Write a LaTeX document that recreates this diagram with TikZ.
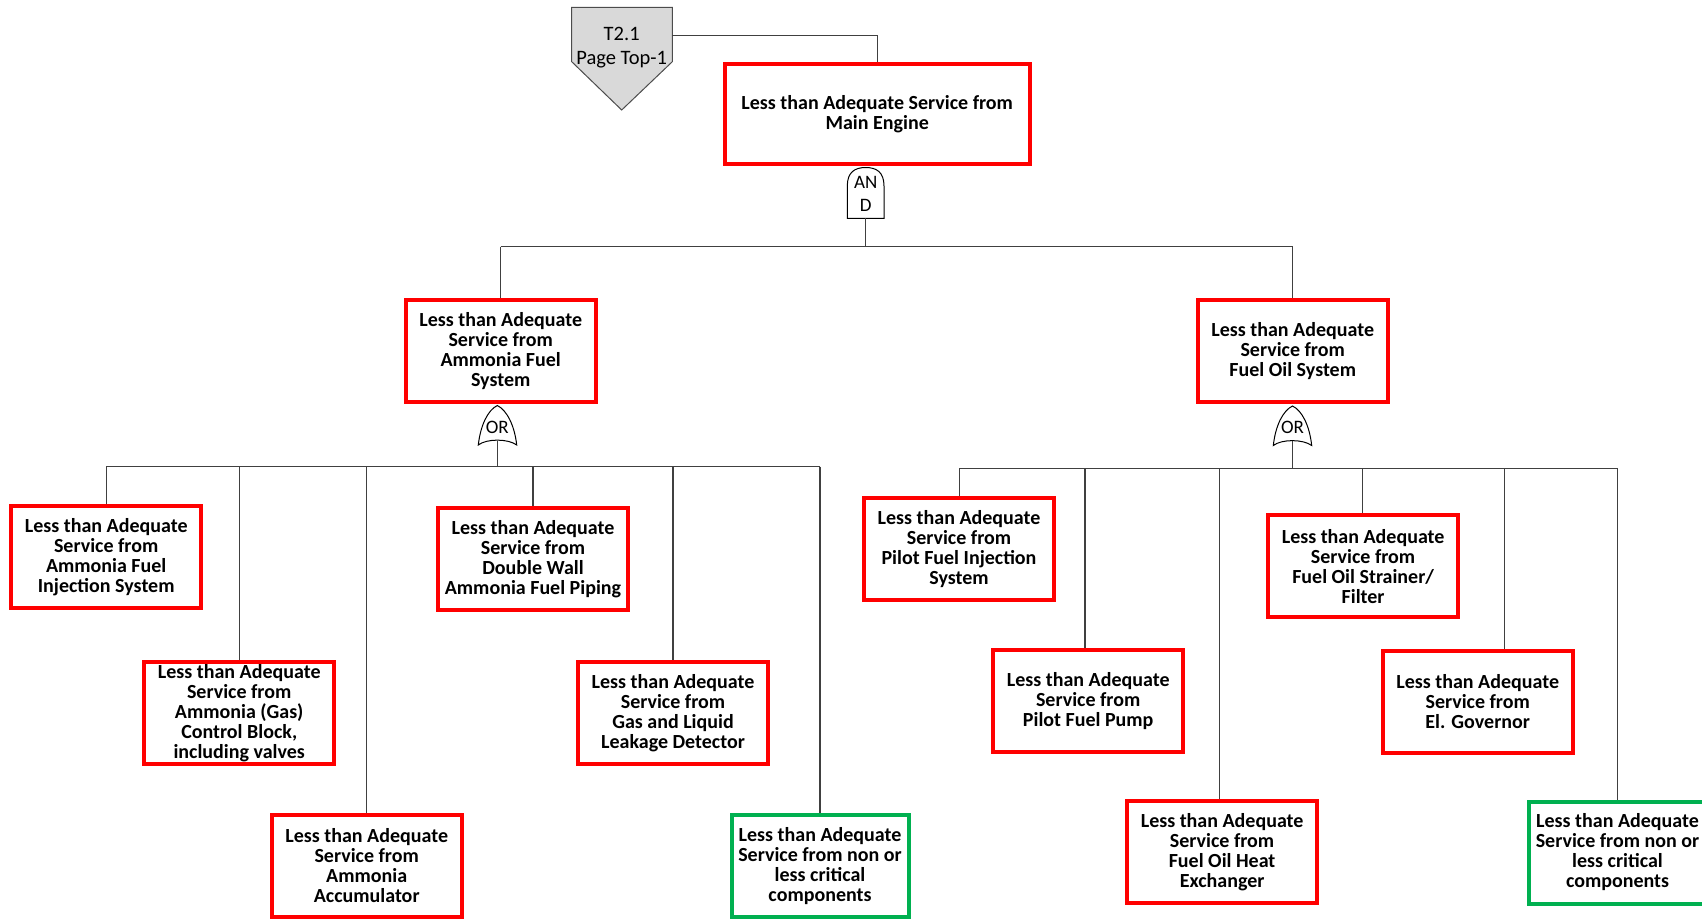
\documentclass[tikz,border=0pt]{standalone}
\usepackage{fontspec}
\setmainfont{Carlito}
\definecolor{evred}{HTML}{FF0000}
\definecolor{evgreen}{HTML}{00B050}
\definecolor{pentfill}{HTML}{D9D9D9}
\begin{document}
\begin{tikzpicture}[x=1pt,y=-1pt,
  evt/.style={draw=evred, line width=4pt, fill=white, align=center,
    font=\bfseries\fontsize{20}{20}\selectfont, inner sep=0pt,
    minimum width=190pt, minimum height=102pt},
  evtg/.style={evt, draw=evgreen, minimum width=177pt},
  conn/.style={draw=black!75, line width=1.2pt},
  gate/.style={draw=black, line width=1pt, fill=white},
  gtext/.style={font=\fontsize{19}{23}\selectfont, align=center, inner sep=0pt}]
\useasboundingbox (0,0) rectangle (1702,919);

% off-page connector
\draw[fill=pentfill, draw=black!70, line width=1pt]
  (571.7,7.3) -- (672.3,7.3) -- (672.3,61.7) -- (621.7,110) -- (571.7,61.7) -- cycle;
\node[gtext, font=\fontsize{20.5}{24}\selectfont] (pent) at (621.7,47.5) {T2.1\\Page Top-1};
\coordinate (pentR) at (672.3,35.7);

% top event
\node[evt, minimum width=305pt, minimum height=100pt] (top) at (877.2,113.7)
  {Less than Adequate Service from\\Main Engine};
\draw[conn] (pentR) -| (top.north);

% AND gate
\draw[gate] (847.3,218.3) -- (847.3,186) .. controls (847.3,172) and (855,167.5) .. (865.7,167.5)
  .. controls (876.4,167.5) and (884,172) .. (884,186) -- (884,218.3) -- cycle;
\node[gtext] (andg) at (865.7,194) {AN\\D};
\coordinate (andout) at (865.5,218.3);
\coordinate (busT) at (865.5,246.5);

% second level
\node[evt] (afs) at (500.7,351.3) {Less than Adequate\\Service from\\Ammonia Fuel\\System};
\node[evt] (fos) at (1292.7,351.3) {Less than Adequate\\Service from\\Fuel Oil System};

\draw[conn] (andout) -- (busT);
\draw[conn] (afs.north |- busT) -- (fos.north |- busT);
\draw[conn] (afs.north |- busT) -- (afs.north);
\draw[conn] (fos.north |- busT) -- (fos.north);

% OR gates
\draw[gate] (478.3,445) .. controls (480.5,425) and (488,410) .. (497.3,405.5)
  .. controls (506.6,410) and (514.5,425) .. (516.7,445)
  .. controls (508,438.5) and (486.6,438.5) .. (478.3,445) -- cycle;
\node[gtext] (orA) at (497.3,427) {OR};
\coordinate (orAout) at (497.3,440.5);
\coordinate (busA) at (497.3,466.5);

\draw[gate] (1273.3,445.5) .. controls (1275.5,425.5) and (1283,410.5) .. (1292.5,406)
  .. controls (1302,410.5) and (1309.5,425.5) .. (1311.7,445.5)
  .. controls (1303,439) and (1281.6,439) .. (1273.3,445.5) -- cycle;
\node[gtext] (orB) at (1292.5,427.5) {OR};
\coordinate (orBout) at (1292.5,441);
\coordinate (busB) at (1292.5,468.5);

% ammonia branch
\node[evt] (a1) at (106.2,557) {Less than Adequate\\Service from\\Ammonia Fuel\\Injection System};
\node[evt] (a2) at (239.2,712.8) {Less than Adequate\\Service from\\Ammonia (Gas)\\Control Block,\\including valves};
\node[evt] (a3) at (366.7,865.7) {Less than Adequate\\Service from\\Ammonia\\Accumulator};
\node[evt] (a4) at (533,559.3) {Less than Adequate\\Service from\\Double Wall\\Ammonia Fuel Piping};
\node[evt] (a5) at (673,713) {Less than Adequate\\Service from\\Gas and Liquid\\Leakage Detector};
\node[evtg] (a6) at (820,866) {Less than Adequate\\Service from non or\\less critical\\components};

\draw[conn] (orAout) -- (busA);
\draw[conn] (a1.north |- busA) -- (a6.north |- busA);
\foreach \n in {a1,a2,a3,a4,a5,a6} \draw[conn] (\n.north |- busA) -- (\n.north);

% fuel oil branch
\node[evt] (b1) at (959,549.3) {Less than Adequate\\Service from\\Pilot Fuel Injection\\System};
\node[evt] (b2) at (1088.2,701.3) {Less than Adequate\\Service from\\Pilot Fuel Pump};
\node[evt] (b3) at (1222.1,851.8) {Less than Adequate\\Service from\\Fuel Oil Heat\\Exchanger};
\node[evt] (b4) at (1363.1,566.3) {Less than Adequate\\Service from\\Fuel Oil Strainer/\\Filter};
\node[evt] (b5) at (1477.7,701.6) {Less than Adequate\\Service from\\El. Governor};
\node[evtg] (b6) at (1617.5,852.5) {Less than Adequate\\Service from non or\\less critical\\components};

\coordinate (jb1) at (959.3,468.5);
\coordinate (jb2) at (1085,468.5);
\coordinate (jb3) at (1219.3,468.5);
\coordinate (jb4) at (1362.3,468.5);
\coordinate (jb5) at (1504.7,468.5);
\coordinate (jb6) at (1617.5,468.5);

\draw[conn] (orBout) -- (busB);
\draw[conn] (jb1) -- (jb6);
\foreach \n in {1,...,6} \draw[conn] (jb\n) -- (jb\n |- b\n.north);
\end{tikzpicture}
\end{document}
